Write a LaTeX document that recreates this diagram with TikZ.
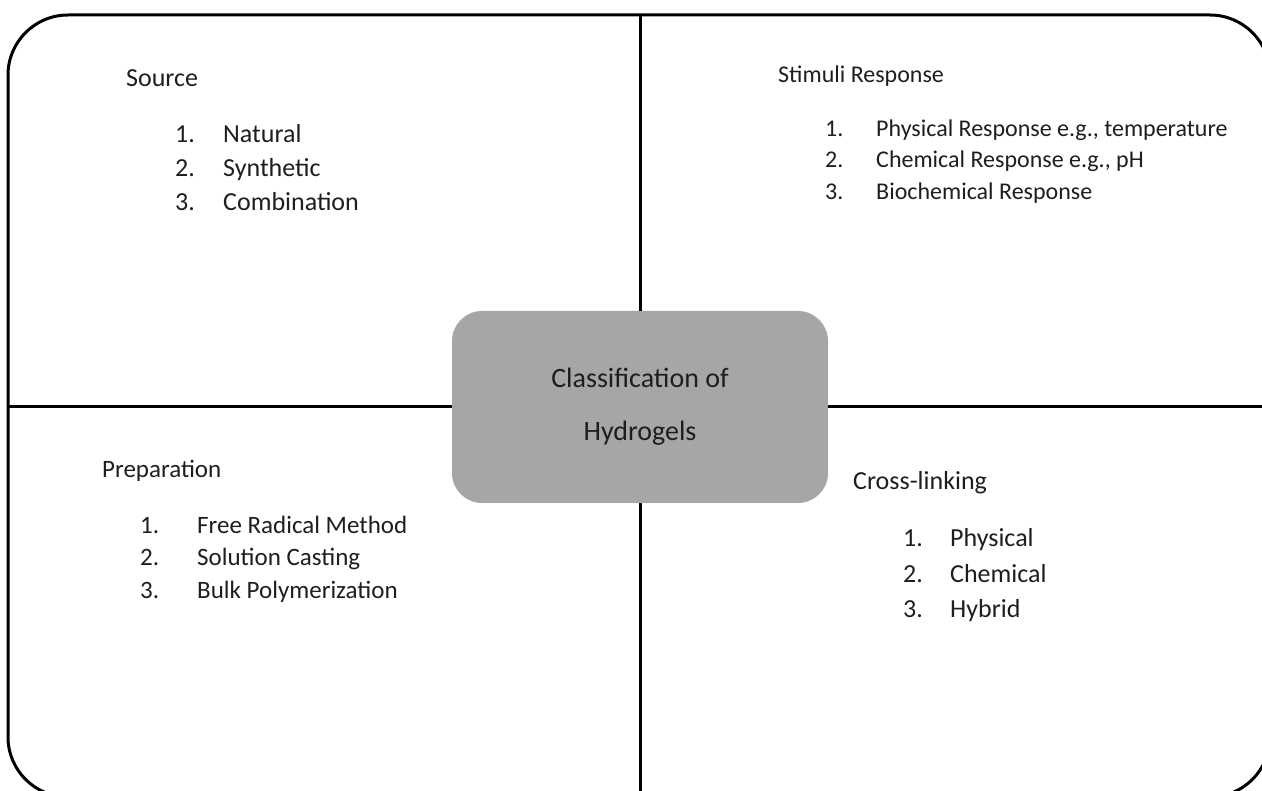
\documentclass[tikz,border=0pt]{standalone}
\usepackage{fontspec}
\setmainfont{Carlito}
\usetikzlibrary{positioning}
\definecolor{hubgray}{RGB}{166,166,166}
\definecolor{inkgray}{RGB}{30,30,30}

\begin{document}
\begin{tikzpicture}[x=1pt,y=-1pt]
  \tikzset{Frame/.style={line width=3pt, rounded corners=60pt}}
  \tikzset{Divider/.style={line width=3pt}}
  \tikzset{Hub/.style={fill=hubgray, rounded corners=30pt, minimum width=376pt,
      minimum height=192pt, align=center, text=inkgray, font=\fontsize{28}{53}\selectfont}}
  \tikzset{Txt/.style={anchor=base west, inner sep=0pt, text=inkgray, font=\fontsize{#1}{#1}\selectfont}}

  \useasboundingbox (0,0) rectangle (1262,791);
  \draw[Frame] (8,15) rectangle (1270,797);

  \node[Hub] (H) at (640,407) {Classification of\\Hydrogels};

  \coordinate (N) at (640,15);
  \coordinate (S) at (640,797);
  \coordinate (W) at (8,407);
  \coordinate (E) at (1270,407);
  \draw[Divider] (N) -- (H.north);
  \draw[Divider] (H.south) -- (S);
  \draw[Divider] (W) -- (H.west);
  \draw[Divider] (H.east) -- (E);

  % source
  \node[Txt=26] (Src) at (126,87) {Source};
  \foreach \t [count=\i] in {Natural, Synthetic, Combination}{
    \node[Txt=26] (Src\i) at (175,{109+34*\i}) {\i.};
    \node[Txt=26] (SrcT\i) at (223,{109+34*\i}) {\t};
  }

  % stimuli
  \node[Txt=24] (Stim) at (778,83) {Stimuli Response};
  \foreach \t [count=\i] in {{Physical Response e.g., temperature},
      {Chemical Response e.g., pH}, Biochemical Response}{
    \node[Txt=24] (Stim\i) at (825,{105+31.5*\i}) {\i.};
    \node[Txt=24] (StimT\i) at (876,{105+31.5*\i}) {\t};
  }

  % preparation
  \node[Txt=25] (Prep) at (102,478) {Preparation};
  \foreach \t [count=\i] in {Free Radical Method, Solution Casting, Bulk Polymerization}{
    \node[Txt=25] (Prep\i) at (140,{500.5+32.5*\i}) {\i.};
    \node[Txt=25] (PrepT\i) at (197,{500.5+32.5*\i}) {\t};
  }

  % cross-linking
  \node[Txt=26] (Cross) at (853,490) {Cross-linking};
  \foreach \t [count=\i] in {Physical, Chemical, Hybrid}{
    \node[Txt=26] (Cross\i) at (903,{512+35*\i}) {\i.};
    \node[Txt=26] (CrossT\i) at (950,{512+35*\i}) {\t};
  }
\end{tikzpicture}
\end{document}
